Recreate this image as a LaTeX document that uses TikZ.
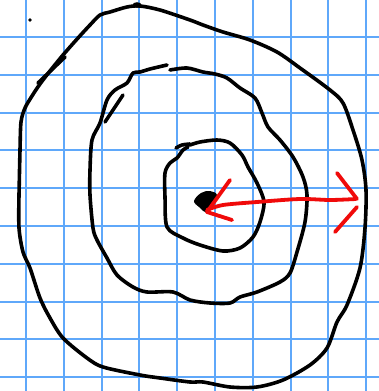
\documentclass[tikz,border=0pt]{standalone}
\definecolor{gridblue}{RGB}{95,168,250}
\definecolor{inkred}{RGB}{240,10,10}
\tikzset{
  gridline/.style={gridblue, line width=2pt},
  ink/.style={black, line width=3.6pt, line cap=round, line join=round},
  redink/.style={inkred, line width=3.8pt, line cap=round, line join=round}
}
\begin{document}
\begin{tikzpicture}[x=1pt,y=-1pt]
\useasboundingbox (0,0) rectangle (379,391);
\fill[white] (0,0) rectangle (379,391);
% grid
\foreach \k in {0,...,9} {
  \draw[gridline] ({26+37.8*\k},0) -- ({26+37.8*\k},391);
  \draw[gridline] (0,{37+37.8*\k}) -- (379,{37+37.8*\k});
}
% stray dot
\fill (30,20) circle (1.8);
% outer curve
\draw[ink] plot[smooth, tension=0.5] coordinates {
  (19,195) (20,150) (21,122) (25,108) (32,96) (40,84) (50,71) (63,55) (78,38) (90,25)
  (100,15) (110,12) (127,7) (140,6) (160,10) (190,20) (203,25) (223,32) (250,40) (277,52)
  (300,68) (330,90) (343,103) (353,130) (362,160) (366,190) (365,228) (360,268) (347,305)
  (337,322) (327,348) (310,365) (283,380) (257,387) (230,387) (203,382) (190,382)
  (160,378) (140,375) (103,367) (87,358) (63,338) (50,318) (40,298) (30,268) (23,252)
  (19,228) (19,195)};
\draw[ink] (38,83) -- (65,57);
\fill (137,5) ellipse (4.5 and 2.8);
% middle curve
\draw[ink] plot[smooth, tension=0.5] coordinates {
  (167,65) (150,69) (140,72) (133,73) (127,83) (115,90) (107,100) (100,123) (92,140)
  (90,170) (90,195) (93,228) (97,240) (107,258) (117,275) (133,287) (147,292) (173,292)
  (190,300) (210,303) (230,303) (240,297) (257,292) (280,282) (290,273) (297,252)
  (305,222) (307,195) (303,177) (293,157) (280,140) (268,127) (262,113) (255,98)
  (240,88) (227,78) (215,74) (203,72) (187,68) (170,70)};
\draw[ink] (105,122) -- (123,95);
% inner curve
\draw[ink] plot[smooth, tension=0.5] coordinates {
  (176,148) (182,145) (190,144)};
\draw[ink] plot[smooth, tension=0.5] coordinates {
  (190,145) (200,142) (217,140) (230,143) (242,155) (248,167) (257,183) (264,202)
  (260,222) (253,237) (240,248) (223,251) (200,245) (183,238) (167,227) (165,197)
  (165,173) (170,163) (177,158) (183,150) (188,147)};
% central blob
\fill plot[smooth cycle, tension=0.6] coordinates {
  (194,201) (201,193) (210,191) (217,195) (213,205) (206,212) (199,207)};
% red arrow
\draw[redink] plot[smooth, tension=0.5] coordinates {
  (207,210) (223,205) (257,202) (300,199) (330,200) (356,199)};
\draw[redink] (230,180) -- (207,212) -- (232,220);
\draw[redink] (337,173) -- (357,199);
\draw[redink] (357,207) -- (335,232);
\end{tikzpicture}
\end{document}
